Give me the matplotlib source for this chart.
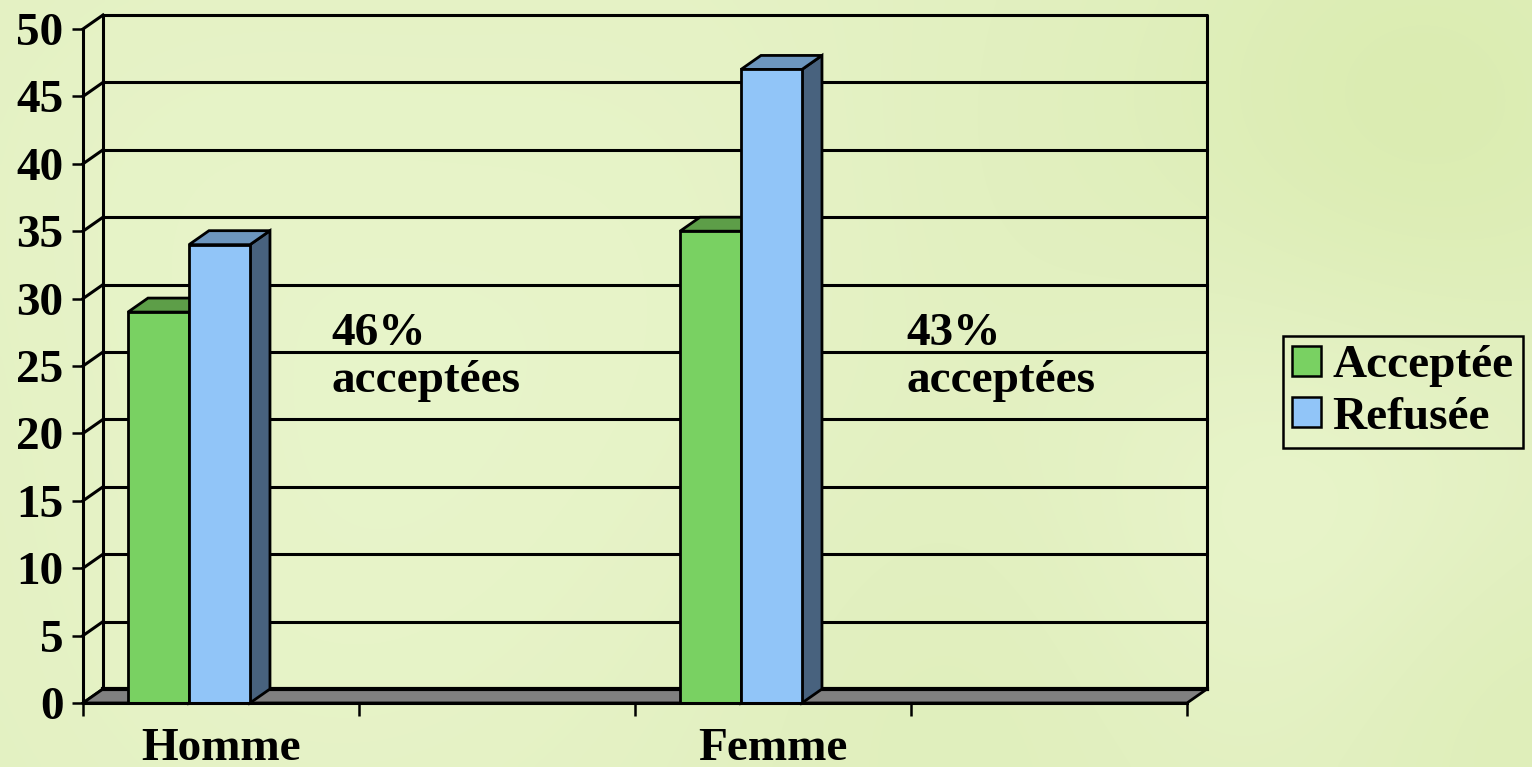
import numpy as np
import matplotlib
matplotlib.use("Agg")
import matplotlib.pyplot as plt
from matplotlib.patches import Polygon, Rectangle, Patch

# ---------------- data ----------------
categories = ["Homme", "Femme"]
series_names = ["Acceptée", "Refusée"]
acceptee = [29, 35]
refusee = [34, 47]
y_ticks = [0, 5, 10, 15, 20, 25, 30, 35, 40, 45, 50]

# ---------------- style ----------------
FONT = "Liberation Serif"
FS = 34
front_cols = ["#79D162", "#91C5F8"]
top_cols = ["#5D9E48", "#6D96BE"]
side_cols = ["#4A8A3A", "#48627E"]
floor_col = "#808080"
EW = 2.0

W, H = 1532, 767
fig = plt.figure(figsize=(W / 100, H / 100), dpi=100)

# textured light-green background
bg = fig.add_axes([0, 0, 1, 1], zorder=-10)
yy, xx = np.mgrid[0:H:4, 0:W:4]
base = np.array([226, 240, 192]) / 255.0
light = np.array([236, 247, 208]) / 255.0
dark = np.array([218, 236, 175]) / 255.0
t = np.zeros_like(xx, dtype=float)
for cx, cy, r, a in [(1420, 120, 180, -0.9), (1300, 520, 200, 0.8), (700, 250, 300, 0.5),
                     (300, 600, 250, 0.4), (1000, 650, 200, -0.4), (150, 150, 200, 0.3),
                     (1500, 700, 150, -0.6), (1000, 200, 200, -0.3)]:
    t += a * np.exp(-(((xx - cx) ** 2 + (yy - cy) ** 2) / (2 * r ** 2)))
t = np.clip(t, -1, 1)
img = np.where(t[..., None] >= 0, base + (light - base) * t[..., None],
               base + (base - dark) * t[..., None])
bg.imshow(img, aspect="auto", extent=[0, 1, 0, 1], interpolation="bicubic")
bg.axis("off")

# main axes: front frame of the 3D box
x0p, x1p, y0p, y1p = 83, 1187, 703, 29
ax = fig.add_axes([x0p / W, 1 - y0p / H, (x1p - x0p) / W, (y0p - y1p) / H])
ax.set_facecolor("none")
n_slots = 2 * len(categories)
ax.set_xlim(0, n_slots)
ax.set_ylim(0, 50)

DX = 20 / ((x1p - x0p) / n_slots)
DY = 14 / ((y0p - y1p) / 50)

lw_axis = 2.2
# floor
ax.add_patch(Polygon([(0, 0), (n_slots, 0), (n_slots + DX, DY), (DX, DY)], closed=True,
                     facecolor=floor_col, edgecolor="black", lw=EW, clip_on=False, zorder=1))
ax.plot([DX, n_slots + DX], [DY, DY], color="black", lw=3, clip_on=False, zorder=1.1)
# back wall + gridlines
for v in y_ticks[1:-1]:
    ax.plot([DX, n_slots + DX], [v + DY, v + DY], color="black", lw=lw_axis, clip_on=False, zorder=0.5)
ax.plot([DX, n_slots + DX, n_slots + DX], [50 + DY, 50 + DY, DY], color="black", lw=lw_axis,
        clip_on=False, zorder=0.5)
ax.plot([DX, DX], [DY, 50 + DY], color="black", lw=lw_axis, clip_on=False, zorder=0.5)
# side-wall diagonals
for v in y_ticks:
    ax.plot([0, DX], [v, v + DY], color="black", lw=lw_axis, clip_on=False, zorder=0.6)

# bars
bar_off = [0.163, 0.384]
bar_w = 0.221
for ci, cat in enumerate(categories):
    s = 2 * ci
    for si, vals in enumerate([acceptee, refusee]):
        v = vals[ci]
        xa = s + bar_off[si]
        xb = xa + bar_w
        ax.add_patch(Polygon([(xb, 0), (xb + DX, DY), (xb + DX, v + DY), (xb, v)], closed=True,
                             facecolor=side_cols[si], edgecolor="black", lw=EW, zorder=2 + si,
                             clip_on=False, joinstyle="miter"))
        ax.add_patch(Polygon([(xa, v), (xb, v), (xb + DX, v + DY), (xa + DX, v + DY)], closed=True,
                             facecolor=top_cols[si], edgecolor="black", lw=EW, zorder=2 + si,
                             clip_on=False, joinstyle="miter"))
        ax.add_patch(Rectangle((xa, 0), bar_w, v, facecolor=front_cols[si], edgecolor="black",
                               lw=EW, zorder=2.5 + si, clip_on=False, joinstyle="miter"))

# percentage annotations
ann_x = [0.9, 2.985]
for ci in range(len(categories)):
    pct = round(100 * acceptee[ci] / (acceptee[ci] + refusee[ci]))
    ax.text(ann_x[ci], 26.55, f"{pct}%", fontfamily=FONT, fontweight="bold", fontsize=FS,
            va="baseline", ha="left", zorder=5)
    ax.text(ann_x[ci], 23.05, "acceptées", fontfamily=FONT, fontweight="bold", fontsize=FS,
            va="baseline", ha="left", zorder=5)

# axes spines / ticks
for sp in ["top", "right"]:
    ax.spines[sp].set_visible(False)
for sp in ["left", "bottom"]:
    ax.spines[sp].set_linewidth(lw_axis)
    ax.spines[sp].set_zorder(6)
ax.set_yticks(y_ticks)
ax.set_yticklabels([str(v) for v in y_ticks], fontfamily=FONT, fontweight="bold", fontsize=FS)
ax.tick_params(axis="y", direction="out", length=8, width=1.8, pad=6)
ax.set_xticks(range(n_slots + 1))
ax.set_xticklabels([])
ax.tick_params(axis="x", which="major", direction="out", length=9, width=1.8)
ax.set_xticks([2 * i + 0.5 for i in range(len(categories))], minor=True)
ax.set_xticklabels(categories, minor=True, fontfamily=FONT, fontweight="bold", fontsize=FS)
ax.tick_params(axis="x", which="minor", length=0, pad=18)

# legend
handles = [Patch(facecolor=front_cols[i], edgecolor="black", lw=1.8) for i in range(2)]
leg = fig.legend(handles, series_names, loc="upper left",
                 bbox_to_anchor=(1283 / W, 1 - 336 / H), bbox_transform=fig.transFigure,
                 prop={"family": FONT, "weight": "bold", "size": FS},
                 handlelength=0.6, handleheight=0.6, handletextpad=0.25,
                 borderpad=0.2, labelspacing=0.2, borderaxespad=0, fancybox=False,
                 edgecolor="black", framealpha=1)
leg.get_frame().set_facecolor("none")
leg.get_frame().set_linewidth(1.8)

fig.savefig("out.png", dpi=100)
